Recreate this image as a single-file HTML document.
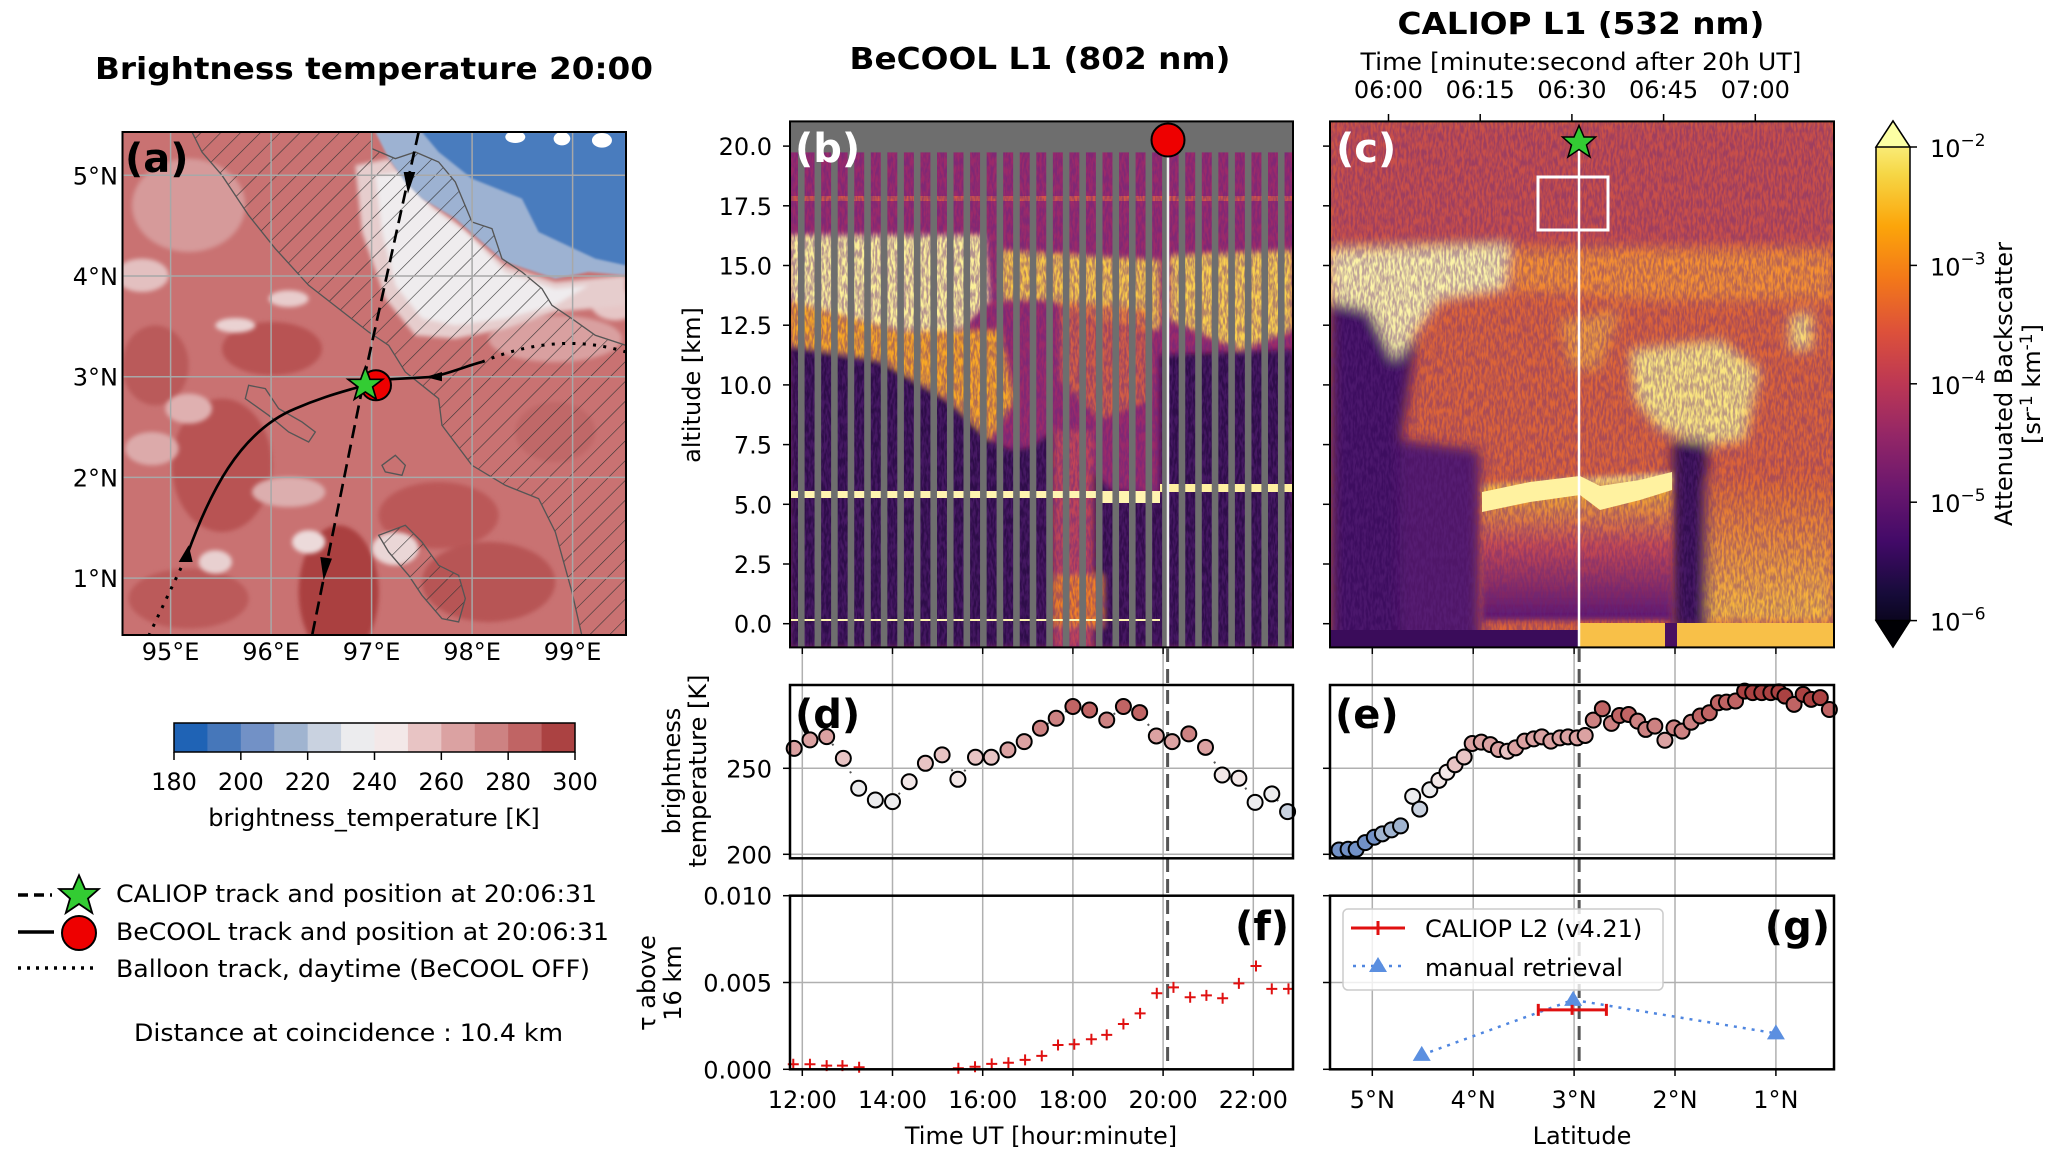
<!DOCTYPE html>
<html><head><meta charset="utf-8"><title>BeCOOL / CALIOP coincidence</title>
<style>
html,body{margin:0;padding:0;background:#fff;}
svg{display:block;font-family:"DejaVu Sans","Liberation Sans",sans-serif;}
</style></head>
<body>
<svg id="fig" xmlns="http://www.w3.org/2000/svg" width="2067" height="1156" viewBox="0 0 2067 1156">
<defs>
  <pattern id="hatch" patternUnits="userSpaceOnUse" width="42" height="42" patternTransform="rotate(45)">
    <line x1="0" y1="0" x2="0" y2="42" stroke="#333" stroke-width="3.5"/>
  </pattern>
  <linearGradient id="inferno" x1="0" y1="1" x2="0" y2="0">
    <stop offset="0" stop-color="#000004"/><stop offset="0.1" stop-color="#160b39"/>
    <stop offset="0.2" stop-color="#420a68"/><stop offset="0.3" stop-color="#6a176e"/>
    <stop offset="0.4" stop-color="#932667"/><stop offset="0.5" stop-color="#bc3754"/>
    <stop offset="0.6" stop-color="#dd513a"/><stop offset="0.7" stop-color="#f37819"/>
    <stop offset="0.8" stop-color="#fca50a"/><stop offset="0.9" stop-color="#f6d746"/>
    <stop offset="1" stop-color="#fcffa4"/>
  </linearGradient>
  <linearGradient id="lowOrange" x1="0" y1="0" x2="0" y2="1">
    <stop offset="0" stop-color="#fcf0a0"/><stop offset="0.12" stop-color="#f8b030"/><stop offset="0.5" stop-color="#c84a50"/><stop offset="1" stop-color="#5a1470"/>
  </linearGradient>
  <linearGradient id="rightLow" x1="0" y1="0" x2="0" y2="1">
    <stop offset="0" stop-color="#e06a30"/><stop offset="1" stop-color="#fbc040"/>
  </linearGradient>
  <filter id="blur3"><feGaussianBlur stdDeviation="3"/></filter>
  <filter id="blur6"><feGaussianBlur stdDeviation="6"/></filter>
  <filter id="noise" x="0" y="0" width="100%" height="100%">
    <feTurbulence type="fractalNoise" baseFrequency="0.45 0.12" numOctaves="2" seed="4"/>
    <feColorMatrix type="matrix" values="0 0 0 0 0.12  0 0 0 0 0.02  0 0 0 0 0.22  0 0 0 -3.2 2.1"/>
  </filter>
  <clipPath id="clipA"><rect x="122.5" y="132" width="503.5" height="503"/></clipPath>
  <clipPath id="clipB"><rect x="790" y="121.4" width="503" height="526"/></clipPath>
  <clipPath id="clipC"><rect x="1330" y="121.4" width="504" height="526"/></clipPath>
</defs>

<!-- ========== Panel (a) map ========== -->
<text x="374" y="79" font-size="30" font-weight="bold" text-anchor="middle" textLength="558" lengthAdjust="spacingAndGlyphs">Brightness temperature 20:00</text>
<g clip-path="url(#clipA)">
  <g transform="translate(122,132) scale(0.3333)">
    <rect x="0" y="0" width="1512" height="1512" fill="#c97272"/>
    <g filter="url(#blur6)">
      <ellipse cx="300" cy="1000" rx="150" ry="200" fill="#b85252"/>
      <ellipse cx="650" cy="1380" rx="120" ry="200" fill="#aa4040"/>
      <ellipse cx="1100" cy="1350" rx="200" ry="120" fill="#b75555"/>
      <ellipse cx="450" cy="650" rx="150" ry="80" fill="#b85252"/>
      <ellipse cx="950" cy="1150" rx="180" ry="100" fill="#bb5858"/>
      <ellipse cx="100" cy="700" rx="100" ry="120" fill="#ba5a5a"/>
      <ellipse cx="200" cy="1400" rx="180" ry="90" fill="#bb5a5a"/>
      <ellipse cx="1300" cy="900" rx="120" ry="90" fill="#c06868"/>
    </g>
    <g filter="url(#blur6)">
      <ellipse cx="200" cy="220" rx="170" ry="140" fill="#d69a9a"/>
      <ellipse cx="60" cy="430" rx="80" ry="50" fill="#e3c0c0"/>
      <ellipse cx="340" cy="580" rx="60" ry="22" fill="#ead2d2"/>
      <ellipse cx="500" cy="500" rx="60" ry="25" fill="#e8cccc"/>
      <ellipse cx="200" cy="830" rx="70" ry="45" fill="#dfb0b0"/>
      <ellipse cx="90" cy="950" rx="80" ry="50" fill="#dcaaaa"/>
      <ellipse cx="560" cy="1230" rx="50" ry="35" fill="#ecdada"/>
      <ellipse cx="820" cy="1250" rx="70" ry="50" fill="#ead6d6"/>
      <ellipse cx="280" cy="1290" rx="50" ry="35" fill="#e8d0d0"/>
      <ellipse cx="500" cy="1080" rx="110" ry="45" fill="#dcaeae"/>
      <ellipse cx="1300" cy="620" rx="200" ry="70" fill="#d9a0a0"/>
      <ellipse cx="1480" cy="520" rx="70" ry="45" fill="#e6c6c6"/>
    </g>
    <path filter="url(#blur6)" d="M700,100 L800,80 L900,200 L1000,270 L1150,400 L1300,450 L1512,430 L1512,520 L1300,540 L1150,590 L1000,620 L880,610 L790,500 L720,300 Z" fill="#e6cdcd"/>
    <path filter="url(#blur6)" d="M760,130 L840,120 L930,230 L1030,300 L1150,420 L1300,470 L1400,460 L1300,520 L1150,560 L1000,580 L900,560 L820,460 L780,300 Z" fill="#efecee"/>
    <path filter="url(#blur3)" d="M760,0 L1512,0 L1512,430 L1400,420 L1300,440 L1240,420 L1150,390 L1080,330 L1000,260 L900,200 L850,150 L800,80 Z" fill="#9db2d2"/>
    <path filter="url(#blur3)" d="M900,0 L1512,0 L1512,400 L1420,380 L1250,300 L1200,200 L1050,140 L950,60 Z" fill="#4a7cbe"/>
    <g fill="#ffffff">
      <ellipse cx="1180" cy="15" rx="30" ry="18"/><ellipse cx="1320" cy="20" rx="25" ry="20"/><ellipse cx="1440" cy="25" rx="30" ry="22"/>
    </g>
    <path d="M210,0 L750,0 L750,50 L820,80 L880,60 L950,90 L1000,150 L1050,270 L1110,290 L1140,380 L1200,420 L1260,470 L1290,520 L1350,560 L1420,610 L1512,640 L1512,1512 L1380,1512 L1350,1380 L1300,1200 L1250,1100 L1150,1060 L1050,1000 L960,880 L950,800 L900,760 L850,720 L800,640 L740,600 L650,530 L560,460 L460,350 L380,250 L300,130 L240,60 Z" fill="url(#hatch)" stroke="#555" stroke-width="4"/>
    <path d="M770,1210 L850,1180 L900,1230 L950,1300 L1010,1330 L1030,1400 L1010,1470 L960,1460 L900,1390 L860,1330 L800,1260 Z" fill="url(#hatch)" stroke="#555" stroke-width="4"/>
    <path d="M380,760 L430,770 L470,830 L540,870 L580,900 L560,930 L500,900 L440,850 L370,800 Z" fill="none" stroke="#555" stroke-width="4"/>
    <path d="M780,1000 L820,970 L850,1000 L840,1030 L790,1020 Z" fill="none" stroke="#555" stroke-width="4"/>
  </g>
</g>
<g id="mapGrid"></g>
<g id="mapTracks" clip-path="url(#clipA)">
  <g transform="translate(122,132) scale(0.3333)">
    <path d="M890,0 L735,700 L570,1512" fill="none" stroke="#000" stroke-width="8" stroke-dasharray="40,20"/>
    <path d="M845,120 L880,120 L858,185 Z" fill="#000"/>
    <path d="M595,1275 L630,1280 L605,1345 Z" fill="#000"/>
    <path d="M195,1270 C260,1090 350,900 520,830 C600,795 660,780 710,765 M800,742 L930,735 C980,725 1040,700 1080,690" fill="none" stroke="#000" stroke-width="8"/>
    <path d="M170,1290 L212,1290 L200,1240 Z" fill="#000"/>
    <path d="M960,720 L960,748 L910,735 Z" fill="#000"/>
    <path d="M1080,690 C1200,640 1350,610 1512,660" fill="none" stroke="#000" stroke-width="9" stroke-dasharray="9,22"/>
    <path d="M80,1512 L195,1270" fill="none" stroke="#000" stroke-width="9" stroke-dasharray="9,22"/>
    <circle cx="762" cy="760" r="45" fill="#ee0000" stroke="#000" stroke-width="6"/>
    <path d="M730,705 L744,742 L782,742 L752,765 L763,802 L730,780 L697,802 L708,765 L678,742 L716,742 Z" fill="#33cc33" stroke="#000" stroke-width="5"/>
  </g>
</g>
<rect x="122.5" y="132" width="503.5" height="503" fill="none" stroke="#000" stroke-width="2"/>
<text x="125" y="172" font-size="40" font-weight="bold">(a)</text>
<g id="mapTicks" font-size="24"></g>

<!-- BT colorbar -->
<g id="btBar"></g>
<text x="374" y="826" font-size="24" text-anchor="middle">brightness_temperature [K]</text>

<!-- Legend left -->
<g font-size="24">
  <line x1="18" y1="895" x2="52" y2="895" stroke="#000" stroke-width="3.5" stroke-dasharray="10,6"/>
  <path transform="translate(79,895) scale(0.6)" d="M0,-33 L10,-10 L33,-10 L15,6 L22,30 L0,15 L-22,30 L-15,6 L-33,-10 L-10,-10 Z" fill="#33cc33" stroke="#000" stroke-width="3"/>
  <text x="116" y="902" textLength="481" lengthAdjust="spacingAndGlyphs">CALIOP track and position at 20:06:31</text>
  <line x1="18" y1="932" x2="54" y2="932" stroke="#000" stroke-width="3.5"/>
  <ellipse cx="79" cy="933" rx="17" ry="17" fill="#ee0000" stroke="#000" stroke-width="2"/>
  <text x="116" y="940" textLength="493" lengthAdjust="spacingAndGlyphs">BeCOOL track and position at 20:06:31</text>
  <line x1="18" y1="968" x2="96" y2="968" stroke="#000" stroke-width="3.5" stroke-dasharray="3,6"/>
  <text x="116" y="977" textLength="474" lengthAdjust="spacingAndGlyphs">Balloon track, daytime (BeCOOL OFF)</text>
  <text x="134" y="1041" textLength="429" lengthAdjust="spacingAndGlyphs">Distance at coincidence : 10.4 km</text>
</g>

<!-- ========== Panel (b) BeCOOL ========== -->
<text x="1040" y="69" font-size="30" font-weight="bold" text-anchor="middle" textLength="381" lengthAdjust="spacingAndGlyphs">BeCOOL L1 (802 nm)</text>
<g clip-path="url(#clipB)">
  <rect x="790" y="121" width="503" height="527" fill="#6e6e6e"/>
  <rect x="790" y="152" width="503" height="496" fill="#9a2a6a"/>
  <rect x="790" y="196" width="503" height="5" fill="#e06040" opacity="0.8"/>
  <g filter="url(#blur3)">
    <path d="M790,346 L840,345 L880,355 L920,380 L960,410 L990,440 L1010,450 L1030,448 L1030,647 L790,647 Z" fill="#2e0c48"/>
    <path d="M1160,355 L1293,350 L1293,647 L1160,647 Z" fill="#2e0c48"/>
    <path d="M1030,448 L1055,430 L1110,490 L1160,495 L1160,647 L1030,647 Z" fill="#300c4c"/>
    <rect x="1053" y="430" width="40" height="217" fill="#c04458"/>
    <rect x="1053" y="575" width="50" height="52" fill="#f08028"/>
    <path d="M790,235 L985,235 L990,300 L960,330 L900,340 L850,330 L790,320 Z" fill="#fcf09a"/>
    <path d="M790,300 L900,330 L960,330 L1000,330 L1015,400 L990,440 L950,400 L880,360 L790,345 Z" fill="#f8a828"/>
    <path d="M1000,250 L1160,260 L1160,330 L1100,320 L1050,300 L1000,300 Z" fill="#f8c848"/>
    <path d="M1170,255 L1293,250 L1293,330 L1240,350 L1170,320 Z" fill="#fad050"/>
    <path d="M1060,300 L1150,310 L1150,400 L1100,420 L1060,380 Z" fill="#e06a3c" opacity="0.8"/>
  </g>
  <rect x="790" y="121" width="503" height="527" fill="#000" filter="url(#noise)" opacity="0.45"/>
  <rect x="790" y="491" width="370" height="7" fill="#fff4b0"/>
  <rect x="1100" y="497" width="60" height="6" fill="#fff4b0"/>
  <rect x="1160" y="484" width="133" height="8" fill="#fff0a0"/>
  <rect x="790" y="619" width="370" height="2" fill="#fff4b0"/>
  <g id="stripes"></g>
  <rect x="790" y="121.4" width="503" height="31" fill="#6e6e6e"/>
</g>
<line x1="1168" y1="140" x2="1168" y2="647" stroke="#eee" stroke-width="2.5"/>
<rect x="790" y="121.4" width="503" height="526" fill="none" stroke="#000" stroke-width="2"/>
<circle cx="1168" cy="140" r="16.5" fill="#ee0000" stroke="#000" stroke-width="2"/>
<text x="795" y="162" font-size="40" font-weight="bold" fill="#fff">(b)</text>
<g id="altAxis" font-size="24"></g>
<text transform="translate(700,385) rotate(-90)" font-size="24" text-anchor="middle">altitude [km]</text>

<!-- ========== Panel (c) CALIOP ========== -->
<text x="1581" y="34" font-size="30" font-weight="bold" text-anchor="middle" textLength="367" lengthAdjust="spacingAndGlyphs">CALIOP L1 (532 nm)</text>
<text x="1581" y="70" font-size="24" text-anchor="middle" textLength="441" lengthAdjust="spacingAndGlyphs">Time [minute:second after 20h UT]</text>
<g clip-path="url(#clipC)">
  <rect x="1330" y="121" width="504" height="527" fill="#dc6438"/>
  <g filter="url(#blur6)">
    <rect x="1330" y="121" width="504" height="125" fill="#c8504a"/>
    <path d="M1330,300 L1410,300 L1415,350 L1400,450 L1420,647 L1330,647 Z" fill="#3c0e5e"/>
    <path d="M1400,440 L1480,450 L1480,647 L1400,647 Z" fill="#501268"/>
    <path d="M1329,250 L1510,245 L1505,290 L1440,300 L1410,340 L1395,360 L1370,310 L1329,300 Z" fill="#fcf4a8"/>
    <path d="M1510,250 L1834,250 L1834,300 L1650,300 L1510,290 Z" fill="#f59030"/>
    <path d="M1630,350 L1720,340 L1760,370 L1745,440 L1710,445 L1660,430 L1635,400 Z" fill="#fbe680"/>
    <path d="M1790,315 L1812,312 L1812,350 L1790,350 Z" fill="#fae07a"/>
    <path d="M1560,320 L1620,310 L1600,370 L1570,370 Z" fill="#f4a840" opacity="0.8"/>
    <rect x="1672" y="440" width="36" height="190" fill="#300c50"/>
    <path d="M1708,480 L1834,480 L1834,623 L1708,623 Z" fill="url(#rightLow)"/>
  </g>
  <path d="M1482,485 L1580,478 L1672,473 L1672,620 L1482,620 Z" fill="url(#lowOrange)" filter="url(#blur3)"/>
  <rect x="1330" y="121" width="504" height="527" fill="#000" filter="url(#noise)" opacity="0.4"/>
  <path d="M1482,492 L1530,482 L1580,476 L1600,486 L1640,480 L1672,472 L1672,490 L1640,500 L1600,510 L1580,495 L1530,502 L1482,512 Z" fill="#fff2a0"/>
  <rect x="1580" y="623" width="254" height="24" fill="#f8c048"/>
  <rect x="1330" y="630" width="250" height="17" fill="#3a0c5a"/>
  <rect x="1665" y="623" width="12" height="24" fill="#4a1060"/>
</g>
<line x1="1579" y1="142" x2="1579" y2="647" stroke="#fff" stroke-width="2.5"/>
<rect x="1538" y="177" width="70" height="53" fill="none" stroke="#fff" stroke-width="3"/>
<rect x="1330" y="121.4" width="504" height="526" fill="none" stroke="#000" stroke-width="2"/>
<path transform="translate(1579,142) scale(0.5)" d="M0,-33 L10,-10 L33,-10 L15,6 L22,30 L0,15 L-22,30 L-15,6 L-33,-10 L-10,-10 Z" fill="#33cc33" stroke="#000" stroke-width="3"/>
<text x="1336" y="162" font-size="40" font-weight="bold" fill="#fff">(c)</text>
<g id="topAxis" font-size="24"></g>

<!-- inferno colorbar -->
<g>
  <path d="M1876,147 L1893,121 L1910,147 L1910,620.5 L1893,647 L1876,620.5 Z" fill="url(#inferno)" stroke="#000" stroke-width="1.5"/>
  <path d="M1876,147 L1893,121 L1910,147 Z" fill="#fcffa4" stroke="#000" stroke-width="1.5"/>
  <path d="M1876,620.5 L1893,647 L1910,620.5 Z" fill="#000004" stroke="#000" stroke-width="1.5"/>
</g>
<g id="cbTicks" font-size="24"></g>
<text transform="translate(2012,384) rotate(-90)" font-size="24" text-anchor="middle">Attenuated Backscatter</text>
<text transform="translate(2040,384) rotate(-90)" font-size="24" text-anchor="middle">[sr<tspan dy="-8" font-size="17">-1</tspan><tspan dy="8"> km</tspan><tspan dy="-8" font-size="17">-1</tspan><tspan dy="8">]</tspan></text>

<!-- ========== bottom panels ========== -->
<g id="bottom"></g>
<text transform="translate(680,771) rotate(-90)" font-size="24" text-anchor="middle">brightness</text>
<text transform="translate(706,771) rotate(-90)" font-size="24" text-anchor="middle">temperature [K]</text>
<text transform="translate(655,983) rotate(-90)" font-size="24" text-anchor="middle">τ above</text>
<text transform="translate(681,983) rotate(-90)" font-size="24" text-anchor="middle">16 km</text>
<text x="1041" y="1144" font-size="24" text-anchor="middle">Time UT [hour:minute]</text>
<text x="1582" y="1144" font-size="24" text-anchor="middle">Latitude</text>
</svg>

<script>
// ---------- data ----------
const btLevels = [180,190,200,210,220,230,240,250,260,270,280,290,300];
const btColors = ['#1f63b5','#4677ba','#7291c6','#a0b4d0','#c9d2e0','#ececee','#f3e8e8','#e8c4c4','#dba2a2','#cd8282','#c06464','#ab4242'];
const btTicks = [180,200,220,240,260,280,300];
const mapLonTicks = [95,96,97,98,99];
const mapLatTicks = [1,2,3,4,5];
const altTicks = [0,2.5,5,7.5,10,12.5,15,17.5,20];
const caliopTopTicks = ['06:00','06:15','06:30','06:45','07:00'];
const caliopTopMinutes = [6.0,6.25,6.5,6.75,7.0];
const cbExponents = [-2,-3,-4,-5,-6];
const timeTicks = [12,14,16,18,20,22];
const latTicks = [5,4,3,2,1];
const btAxisTicks = [200,250];
const tauTicks = [0,0.005,0.010];
const coincidenceTime = 20.1;
const coincidenceLat = 2.95;

const dTime = [11.82,12.17,12.54,12.91,13.25,13.62,14.0,14.37,14.73,15.10,15.45,15.84,16.19,16.56,16.92,17.28,17.63,18.0,18.37,18.75,19.12,19.48,19.85,20.20,20.57,20.94,21.31,21.68,22.04,22.41,22.76];
const dBT = [261.6,266.5,268.4,255.8,238.4,231.6,230.6,242.2,252.9,257.8,243.6,256.4,256.4,260.7,265.5,273.3,279.1,285.9,283.9,278.1,285.9,282.4,268.8,265.5,270.0,262.2,246.1,244.2,230.2,235.1,224.8];

const eLat = [5.33,5.24,5.16,5.07,4.98,4.90,4.81,4.72,4.60,4.53,4.43,4.34,4.26,4.18,4.09,4.01,3.92,3.83,3.75,3.66,3.58,3.49,3.40,3.32,3.23,3.14,3.06,2.97,2.89,2.81,2.72,2.63,2.55,2.46,2.37,2.29,2.20,2.10,2.01,1.93,1.84,1.75,1.66,1.57,1.49,1.40,1.31,1.23,1.14,1.05,0.97,0.91,0.82,0.73,0.65,0.56,0.47];
const eBT = [202.5,202.9,202.9,206.8,209.9,211.9,214.2,216.5,233.7,226.3,237.5,243.0,247.7,252.1,256.6,264.4,265.2,263.8,260.9,259.9,261.9,265.8,267.1,268.3,265.8,267.7,268.3,267.7,269.1,278.0,284.6,276.1,280.7,281.3,277.4,272.6,274.5,266.3,273.5,271.6,276.8,280.4,282.3,288.1,288.5,289.1,294.9,294.0,294.0,294.0,294.4,292.0,287.2,293.0,290.1,291.1,284.2];

const fTime = [11.80,12.17,12.54,12.89,13.26,15.46,15.83,16.20,16.57,16.94,17.31,17.67,18.03,18.41,18.75,19.12,19.49,19.86,20.23,20.60,20.96,21.32,21.68,22.06,22.41,22.78];
const fTau = [0.00029,0.00029,0.00021,0.00021,0.00012,0.00006,0.00015,0.00031,0.00038,0.00054,0.00077,0.0014,0.00144,0.00173,0.00198,0.00261,0.00322,0.00438,0.00472,0.00415,0.00426,0.00409,0.00495,0.00595,0.00463,0.00463];

const gManualLat = [4.51,3.01,1.0];
const gManualTau = [0.00083,0.0040,0.00207];
const gL2Lat = [3.02];
const gL2Tau = [0.00342];
const gL2LatMin = [3.355];
const gL2LatMax = [2.68];

// ---------- axes ----------
const NS='http://www.w3.org/2000/svg';
function el(tag, parent){ const e=document.createElementNS(NS,tag); parent.appendChild(e); return e; }
function set(e,a){ for(const k in a) e.setAttribute(k,a[k]); return e; }
const lonX = lon => 170.6 + (lon-95)*100.5;
const latY = lat => 578.1 - (lat-1)*100.7;
const altY = a => 623.7 - a*23.88;
const tX = t => 802.3 + (t-12)*45.1;
const latX = l => 1372.3 + (5-l)*100.9;
const btY = b => 768.3 - (b-250)*1.72;
const tauY = v => 1069.3 - v*17360;
const minX = m => 1388.5 + (m-6)*366.8;
const cbY = p => 147 + (-2-p)*118.4;
function btColor(b){ let i=Math.floor((b-180)/10); i=Math.max(0,Math.min(btColors.length-1,i)); return btColors[i]; }

// map grid + ticks
const mg=document.getElementById('mapGrid'), mt=document.getElementById('mapTicks');
mapLonTicks.forEach(lon=>{
  const l=el('line',mg); set(l,{x1:lonX(lon),x2:lonX(lon),y1:132,y2:635,stroke:'#a8a8a8','stroke-width':1.5});
  
  
  const t=el('text',mt); set(t,{x:lonX(lon),y:660,'text-anchor':'middle'}); t.textContent=lon+'°E';
  
  
});
mapLatTicks.forEach(lat=>{
  const l=el('line',mg); set(l,{x1:122.5,x2:626,y1:latY(lat),y2:latY(lat),stroke:'#a8a8a8','stroke-width':1.5});
  
  
  const t=el('text',mt); set(t,{x:118,y:latY(lat)+9,'text-anchor':'end'}); t.textContent=lat+'°N';
  
  
});
document.getElementById('fig').insertBefore(mg, document.getElementById('mapTracks'));

// BT colorbar
const bb=document.getElementById('btBar');
const cbx0=174, cbx1=575, cbw=(cbx1-cbx0)/btColors.length;
btColors.forEach((c,i)=>{
  const r=el('rect',bb); set(r,{x:cbx0+i*cbw,y:723,width:cbw+0.5,height:29,fill:c});
  
  
});
const bf=el('rect',bb); set(bf,{x:cbx0,y:723,width:cbx1-cbx0,height:29,fill:'none',stroke:'#000','stroke-width':1.5});


btTicks.forEach(v=>{
  const x=cbx0+(v-180)/(300-180)*(cbx1-cbx0);
  const l=el('line',bb); set(l,{x1:x,x2:x,y1:752,y2:760,stroke:'#000','stroke-width':1.5});
  
  
  const t=el('text',bb); set(t,{x:x,y:790,'font-size':24,'text-anchor':'middle'}); t.textContent=v;
  
  
});

// BeCOOL gray stripes (instrument gaps)
const st=document.getElementById('stripes');
for(let x=798; x<1293; x+=16.55){
  const r=el('rect',st); set(r,{x:x,y:121,width:6.6,height:527,fill:'#6e6e6e'});
  
  
}

// altitude axes for b and c
const aa=document.getElementById('altAxis');
altTicks.forEach(a=>{
  [790,1330].forEach(x0=>{
    const l=el('line',aa); set(l,{x1:x0-7,x2:x0,y1:altY(a),y2:altY(a),stroke:'#000','stroke-width':1.5});
    
    
  });
  const t=el('text',aa); set(t,{x:772,y:altY(a)+9,'text-anchor':'end'}); t.textContent=a.toFixed(1);
  
  
});
timeTicks.forEach(t0=>{
  const l=el('line',aa); set(l,{x1:tX(t0),x2:tX(t0),y1:647,y2:654,stroke:'#000','stroke-width':1.5});
  
  
});
latTicks.forEach(v=>{
  const l=el('line',aa); set(l,{x1:latX(v),x2:latX(v),y1:647,y2:654,stroke:'#000','stroke-width':1.5});
  
  
});

// CALIOP top axis
const ta=document.getElementById('topAxis');
caliopTopTicks.forEach((lab,i)=>{
  const x=minX(caliopTopMinutes[i]);
  const l=el('line',ta); set(l,{x1:x,x2:x,y1:114,y2:121,stroke:'#000','stroke-width':1.5});
  
  
  const t=el('text',ta); set(t,{x:x,y:98,'text-anchor':'middle'}); t.textContent=lab;
  
  
});

// inferno colorbar ticks
const cb=document.getElementById('cbTicks');
cbExponents.forEach(p=>{
  const y=cbY(p);
  const l=el('line',cb); set(l,{x1:1910,x2:1917,y1:y,y2:y,stroke:'#000','stroke-width':1.5});
  
  
  const t=el('text',cb); set(t,{x:1930,y:y+10});
  
  
  t.textContent='10';
  const s=el('tspan',t); set(s,{dy:-11,'font-size':17}); s.textContent='−'+(-p);
});

// ---------- bottom panels ----------
const bt=document.getElementById('bottom');
const L=[790,1293], R=[1330,1834];
timeTicks.forEach(t0=>{
  const l=el('line',bt); set(l,{x1:tX(t0),x2:tX(t0),y1:654,y2:1069,stroke:'#b0b0b0','stroke-width':1.5});
  
  
});
latTicks.forEach(v=>{
  const l=el('line',bt); set(l,{x1:latX(v),x2:latX(v),y1:654,y2:1069,stroke:'#b0b0b0','stroke-width':1.5});
  
  
});
btAxisTicks.forEach(v=>{
  [L,R].forEach(p=>{
    const l=el('line',bt); set(l,{x1:p[0],x2:p[1],y1:btY(v),y2:btY(v),stroke:'#b0b0b0','stroke-width':1.5});
    
    
    const k=el('line',bt); set(k,{x1:p[0]-7,x2:p[0],y1:btY(v),y2:btY(v),stroke:'#000','stroke-width':1.5});
    
    
  });
  const t=el('text',bt); set(t,{x:772,y:btY(v)+9,'font-size':24,'text-anchor':'end'}); t.textContent=v;
  
  
});
tauTicks.forEach(v=>{
  [L,R].forEach(p=>{
    const l=el('line',bt); set(l,{x1:p[0],x2:p[1],y1:tauY(v),y2:tauY(v),stroke:'#b0b0b0','stroke-width':1.5});
    
    
    const k=el('line',bt); set(k,{x1:p[0]-7,x2:p[0],y1:tauY(v),y2:tauY(v),stroke:'#000','stroke-width':1.5});
    
    
  });
  const t=el('text',bt); set(t,{x:772,y:tauY(v)+9,'font-size':24,'text-anchor':'end'}); t.textContent=v.toFixed(3);
  
  
});
timeTicks.forEach(t0=>{
  const l=el('line',bt); set(l,{x1:tX(t0),x2:tX(t0),y1:1069,y2:1076,stroke:'#000','stroke-width':1.5});
  
  
  const t=el('text',bt); set(t,{x:tX(t0),y:1108,'font-size':24,'text-anchor':'middle'}); t.textContent=t0+':00';
  
  
});
latTicks.forEach(v=>{
  const l=el('line',bt); set(l,{x1:latX(v),x2:latX(v),y1:1069,y2:1076,stroke:'#000','stroke-width':1.5});
  
  
  const t=el('text',bt); set(t,{x:latX(v),y:1108,'font-size':24,'text-anchor':'middle'}); t.textContent=v+'°N';
  
  
});
[[tX(coincidenceTime),'time-coincidence-line'],[latX(coincidenceLat),'lat-coincidence-line']].forEach(o=>{
  const l=el('line',bt); set(l,{x1:o[0],x2:o[0],y1:648,y2:1069,stroke:'#555','stroke-width':3,'stroke-dasharray':'14,7'});
  
  
});

// (d) series
const dl=el('polyline',bt); set(dl,{points:dTime.map((t,i)=>tX(t)+','+btY(dBT[i])).join(' '),fill:'none',stroke:'#555','stroke-width':2,'stroke-dasharray':'2,9'});


dTime.forEach((t,i)=>{
  const c=el('circle',bt); set(c,{cx:tX(t),cy:btY(dBT[i]),r:7.5,fill:btColor(dBT[i]),stroke:'#000','stroke-width':2});
  
  
});
// (e) series
eLat.forEach((v,i)=>{
  const c=el('circle',bt); set(c,{cx:latX(v),cy:btY(eBT[i]),r:7.5,fill:btColor(eBT[i]),stroke:'#000','stroke-width':2});
  
  
});
// (f) series
fTime.forEach((t,i)=>{
  const x=tX(t), y=tauY(fTau[i]);
  const p=el('path',bt); set(p,{d:`M${x-5.5},${y} H${x+5.5} M${x},${y-5.5} V${y+5.5}`,stroke:'#e01010','stroke-width':2});
  
  
});
// (g) series
const gl=el('polyline',bt); set(gl,{points:gManualLat.map((v,i)=>latX(v)+','+tauY(gManualTau[i])).join(' '),fill:'none',stroke:'#4f86e0','stroke-width':2.5,'stroke-dasharray':'3,6'});


gManualLat.forEach((v,i)=>{
  const x=latX(v), y=tauY(gManualTau[i]);
  const p=el('path',bt); set(p,{d:`M${x},${y-9} L${x+9},${y+6} L${x-9},${y+6} Z`,fill:'#5b8fe0'});
  
  
});
gL2Lat.forEach((v,i)=>{
  const y=tauY(gL2Tau[i]), x0=latX(gL2LatMin[i]), x1=latX(gL2LatMax[i]), x=latX(v);
  const p=el('path',bt); set(p,{d:`M${x0},${y} H${x1} M${x0},${y-6} V${y+6} M${x1},${y-6} V${y+6} M${x},${y-5} V${y+5}`,stroke:'#e01010','stroke-width':3});
  
  
});
[[L,685,858.3,'bt-time-frame'],[R,685,858.3,'bt-latitude-frame'],[L,895.7,1069.3,'tau-time-frame'],[R,895.7,1069.3,'tau-latitude-frame']].forEach(o=>{
  const r=el('rect',bt); set(r,{x:o[0][0],y:o[1],width:o[0][1]-o[0][0],height:o[2]-o[1],fill:'none',stroke:'#000','stroke-width':2.5});
  
  
});
[['(d)',795,728,'start'],['(e)',1335,728,'start'],['(f)',1289,940,'end'],['(g)',1830,940,'end']].forEach(o=>{
  const t=el('text',bt); set(t,{x:o[1],y:o[2],'font-size':40,'font-weight':'bold','text-anchor':o[3]}); t.textContent=o[0];
  
  
});
const lg=el('g',bt);


const lb=el('rect',lg); set(lb,{x:1343,y:909,width:320,height:81,rx:5,fill:'#fff','fill-opacity':0.8,stroke:'#ccc','stroke-width':1.5});


const l1=el('path',lg); set(l1,{d:'M1351,928 H1405 M1378,921 V935',stroke:'#e01010','stroke-width':3});


const t1=el('text',lg); set(t1,{x:1425,y:937,'font-size':24}); t1.textContent='CALIOP L2 (v4.21)';


const l2=el('path',lg); set(l2,{d:'M1353,966 H1403',stroke:'#4f86e0','stroke-width':2.5,'stroke-dasharray':'3,6'});


const l3=el('path',lg); set(l3,{d:'M1378,957 L1387,972 L1369,972 Z',fill:'#5b8fe0'});


const t2=el('text',lg); set(t2,{x:1425,y:976,'font-size':24}); t2.textContent='manual retrieval';


</script>
</body></html>
